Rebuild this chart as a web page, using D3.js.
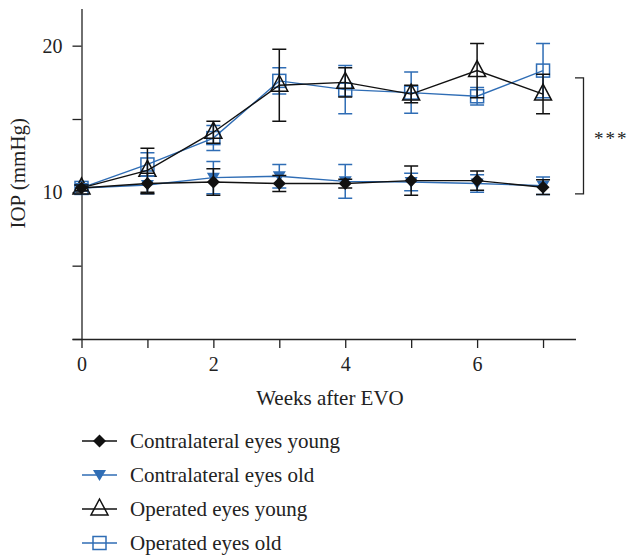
<!DOCTYPE html>
<html>
<head>
<meta charset="utf-8">
<script src="https://cdn.jsdelivr.net/npm/d3@7"></script>
<style>
  body { margin: 0; background: #fff; }
  text { font-family: "Liberation Serif", "DejaVu Serif", serif; fill: #222; }
</style>
</head>
<body>
<svg id="chart" width="628" height="556"></svg>
<script>
// weeks after EVO
let weeks = [0, 1, 2, 3, 4, 5, 6, 7]

// IOP means and error (mmHg)
let contraYoung = [10.3, 10.6, 10.7, 10.6, 10.6, 10.8, 10.8, 10.35]
let contraYoungErr = [0.2, 0.7, 0.9, 0.55, 0.3, 1.0, 0.65, 0.5]
let contraOld = [10.3, 10.5, 11.0, 11.1, 10.75, 10.7, 10.6, 10.45]
let contraOldErr = [0.2, 0.6, 1.1, 0.8, 1.15, 0.6, 0.6, 0.6]
let operYoung = [10.3, 11.5, 14.1, 17.3, 17.5, 16.7, 18.3, 16.7]
let operYoungErr = [0.2, 1.5, 0.75, 2.45, 1.0, 0.6, 1.85, 1.35]
let operOld = [10.3, 11.9, 13.7, 17.6, 17.0, 16.8, 16.55, 18.3]
let operOldErr = [0.2, 0.8, 0.85, 0.9, 1.65, 1.4, 0.6, 1.85]

let xTicks = [0, 1, 2, 3, 4, 5, 6, 7]
let xLabels = ['0', '', '2', '', '4', '', '6', '']
let yTicks = [0, 5, 10, 15, 20]
let yLabels = ['', '', '10', '', '20']

let bracket = [9.9, 17.8]

let blue = '#2f6db5'
let black = '#111'

let series = [
  { name: 'Operated eyes old', values: operOld, err: operOldErr, color: blue, shape: 'square' },
  { name: 'Operated eyes young', values: operYoung, err: operYoungErr, color: black, shape: 'triangle' },
  { name: 'Contralateral eyes old', values: contraOld, err: contraOldErr, color: blue, shape: 'down' },
  { name: 'Contralateral eyes young', values: contraYoung, err: contraYoungErr, color: black, shape: 'diamond' }
]
let legendOrder = [3, 2, 1, 0]

let svg = d3.select('#chart')
let x = d3.scaleLinear().domain([0, 7.5]).range([81.5, 576])
let y = d3.scaleLinear().domain([0, 22.5]).range([339, 9])

// axes
let xAxis = d3.axisBottom(x).tickValues(xTicks).tickSize(9).tickPadding(9)
  .tickFormat(function (d, i) { return xLabels[i] })
let yAxis = d3.axisLeft(y).tickValues(yTicks).tickSize(9).tickPadding(10)
  .tickFormat(function (d, i) { return yLabels[i] })

let gx = svg.append('g').attr('transform', 'translate(0,' + y(0) + ')').call(xAxis)
let gy = svg.append('g').attr('transform', 'translate(' + x(0) + ',0)').call(yAxis)

gx.select('.domain').attr('d', 'M' + (x(0) - 9) + ',0.5H' + x(7.5))
gy.select('.domain').attr('d', 'M0.5,' + y(22.5) + 'V' + y(0))
svg.selectAll('.domain, .tick line').attr('stroke', '#222').attr('stroke-width', 1.3)
svg.selectAll('.tick text').style('font-size', '20px').style('font-family', '"Liberation Serif", serif').attr('fill', '#222')

svg.append('text')
  .attr('transform', 'translate(25,' + y(11.3) + ') rotate(-90)')
  .attr('text-anchor', 'middle')
  .style('font-size', '21px')
  .text('IOP (mmHg)')

svg.append('text')
  .attr('x', 330).attr('y', 405)
  .attr('text-anchor', 'middle')
  .style('font-size', '21px')
  .text('Weeks after EVO')

// symbols
function drawShape(g, shape, color) {
  if (shape === 'square') {
    g.append('rect').attr('x', -6.5).attr('y', -6.5).attr('width', 13).attr('height', 13)
      .attr('fill', 'none').attr('stroke', color).attr('stroke-width', 1.5)
  } else if (shape === 'triangle') {
    g.append('path').attr('d', 'M0,-10L8.5,6L-8.5,6Z')
      .attr('fill', 'none').attr('stroke', color).attr('stroke-width', 1.5)
  } else if (shape === 'down') {
    g.append('path').attr('d', 'M-6.5,-5L6.5,-5L0,6Z').attr('fill', color)
  } else {
    g.append('path').attr('d', 'M0,-6.5L6.5,0L0,6.5L-6.5,0Z').attr('fill', color)
  }
}

let line = d3.line()
  .x(function (d, i) { return x(weeks[i]) })
  .y(function (d) { return y(d) })

series.forEach(function (s) {
  let g = svg.append('g')
  weeks.forEach(function (w, i) {
    let cx = x(w)
    let top = y(s.values[i] + s.err[i])
    let bot = y(s.values[i] - s.err[i])
    g.append('path')
      .attr('d', 'M' + cx + ',' + top + 'V' + bot +
        'M' + (cx - 7) + ',' + top + 'H' + (cx + 7) +
        'M' + (cx - 7) + ',' + bot + 'H' + (cx + 7))
      .attr('stroke', s.color).attr('stroke-width', 1.5).attr('fill', 'none')
  })
  g.append('path').datum(s.values).attr('d', line)
    .attr('fill', 'none').attr('stroke', s.color).attr('stroke-width', 1.4)
  weeks.forEach(function (w, i) {
    drawShape(g.append('g').attr('transform', 'translate(' + x(w) + ',' + y(s.values[i]) + ')'), s.shape, s.color)
  })
})

// significance bracket
svg.append('path')
  .attr('d', 'M575,' + y(bracket[1]) + 'H583.5V' + y(bracket[0]) + 'H575')
  .attr('fill', 'none').attr('stroke', '#222').attr('stroke-width', 1.3)
svg.append('text')
  .attr('x', 594).attr('y', y((bracket[0] + bracket[1]) / 2) + 9)
  .style('font-size', '19px')
  .style('letter-spacing', '2px')
  .text('***')

// legend
let legend = svg.append('g')
legendOrder.forEach(function (k, j) {
  let s = series[k]
  let ly = 441 + j * 34
  let row = legend.append('g').attr('transform', 'translate(0,' + ly + ')')
  row.append('line').attr('x1', 82).attr('x2', 117).attr('y1', 0).attr('y2', 0)
    .attr('stroke', s.color).attr('stroke-width', 1.4)
  drawShape(row.append('g').attr('transform', 'translate(99.5,0)'), s.shape, s.color)
  row.append('text').attr('x', 130).attr('y', 7).style('font-size', '21px').text(s.name)
})
</script>
</body>
</html>
